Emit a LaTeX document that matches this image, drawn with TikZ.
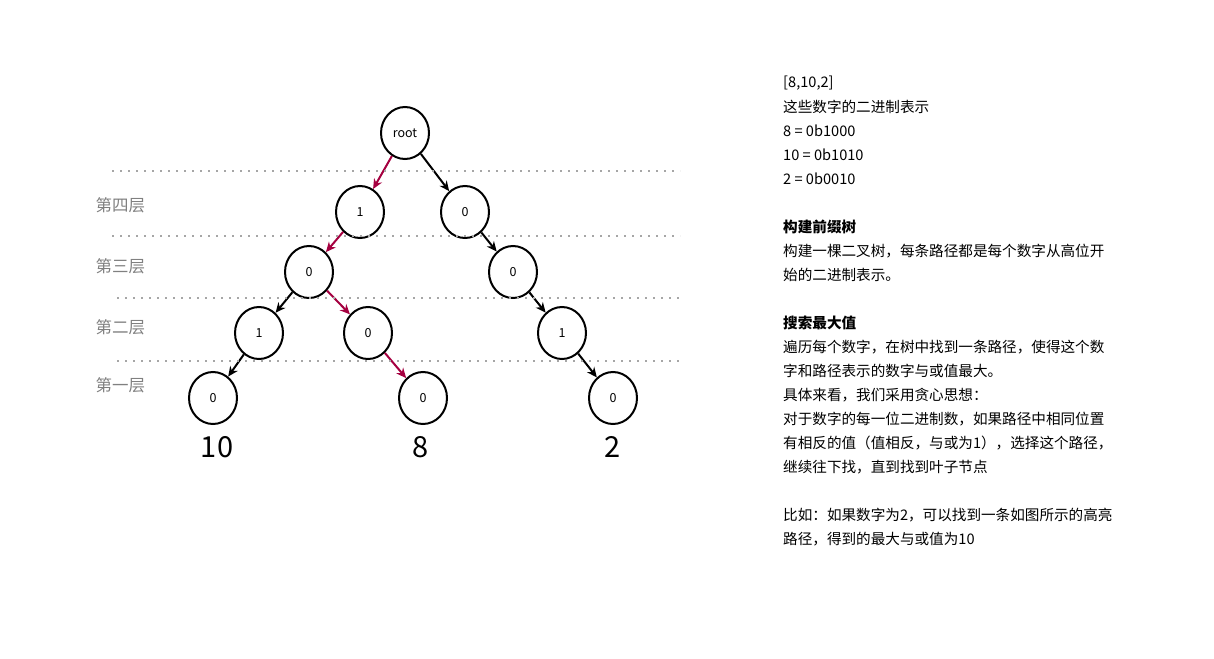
\documentclass[tikz,border=0pt]{standalone}
\usepackage{fontspec}
\setmainfont{Noto Sans CJK SC}
\usetikzlibrary{arrows.meta,shapes.geometric}
\definecolor{hl}{HTML}{A50040}
\begin{document}
\begin{tikzpicture}[x=1pt,y=-1pt,
  tn/.style={draw,line width=2pt,ellipse,minimum width=48pt,minimum height=52pt,inner sep=0pt,font=\fontsize{12.5}{12.5}\selectfont},
  ed/.style={-{Stealth[length=10pt,width=9pt]},line width=2pt},
  hed/.style={ed,draw=hl},
  dl/.style={gray!70,line width=2pt,dash pattern=on 2pt off 6pt},
  lay/.style={anchor=west,text=gray,font=\fontsize{16.5}{16.5}\selectfont},
  big/.style={font=\fontsize{29}{29}\selectfont},
  tx/.style={anchor=west,inner sep=0pt,font=\fontsize{14.6}{14.6}\selectfont}]
\useasboundingbox (0,0) rectangle (1214,658);
\node[tn] (r) at (405,133) {root};
\node[tn] (a1) at (360,212) {1};
\node[tn] (b1) at (465,212) {0};
\node[tn] (a2) at (309,272) {0};
\node[tn] (b2) at (513,272) {0};
\node[tn] (a3) at (259,333) {1};
\node[tn] (c3) at (368,333) {0};
\node[tn] (b3) at (562,333) {1};
\node[tn] (a4) at (213,398) {0};
\node[tn] (c4) at (423,398) {0};
\node[tn] (b4) at (613,398) {0};
\draw[hed] (r) -- (a1);
\draw[ed] (r) -- (b1);
\draw[hed] (a1) -- (a2);
\draw[ed] (b1) -- (b2);
\draw[ed] (a2) -- (a3);
\draw[hed] (a2) -- (c3);
\draw[ed] (b2) -- (b3);
\draw[ed] (a3) -- (a4);
\draw[hed] (c3) -- (c4);
\draw[ed] (b3) -- (b4);
\coordinate (d1a) at (112,171); \coordinate (d1b) at (680,171);
\coordinate (d2a) at (112,236); \coordinate (d2b) at (680,236);
\coordinate (d3a) at (117,298); \coordinate (d3b) at (680,298);
\coordinate (d4a) at (117,361); \coordinate (d4b) at (680,361);
\draw[dl] (d1a) -- (d1b);
\draw[dl] (d2a) -- (d2b);
\draw[dl] (d3a) -- (d3b);
\draw[dl] (d4a) -- (d4b);
\node[lay] (l4) at (92,205) {第四层};
\node[lay] (l3) at (92,266) {第三层};
\node[lay] (l2) at (92,327) {第二层};
\node[lay] (l1) at (92,385) {第一层};
\node[big] (n10) at (217,447) {10};
\node[big] (n8) at (421,447) {8};
\node[big] (n2) at (613,447) {2};
\node[tx] (t1) at (783,83) {[8,10,2]};
\node[tx] (t2) at (783,107) {这些数字的二进制表示};
\node[tx] (t3) at (783,131) {8 = 0b1000};
\node[tx] (t4) at (783,155) {10 = 0b1010};
\node[tx] (t5) at (783,179) {2 = 0b0010};
\node[tx,font=\fontsize{14.6}{14.6}\selectfont\bfseries] (t6) at (783,227) {构建前缀树};
\node[tx] (t7) at (783,251) {构建一棵二叉树，每条路径都是每个数字从高位开};
\node[tx] (t8) at (783,275) {始的二进制表示。};
\node[tx,font=\fontsize{14.6}{14.6}\selectfont\bfseries] (t9) at (783,323) {搜索最大值};
\node[tx] (t10) at (783,347) {遍历每个数字，在树中找到一条路径，使得这个数};
\node[tx] (t11) at (783,371) {字和路径表示的数字与或值最大。};
\node[tx] (t12) at (783,395) {具体来看，我们采用贪心思想：};
\node[tx] (t13) at (783,419) {对于数字的每一位二进制数，如果路径中相同位置};
\node[tx] (t14) at (783,443) {有相反的值（值相反，与或为1），选择这个路径，};
\node[tx] (t15) at (783,467) {继续往下找，直到找到叶子节点};
\node[tx] (t16) at (783,515) {比如：如果数字为2，可以找到一条如图所示的高亮};
\node[tx] (t17) at (783,539) {路径，得到的最大与或值为10};
\end{tikzpicture}
\end{document}
